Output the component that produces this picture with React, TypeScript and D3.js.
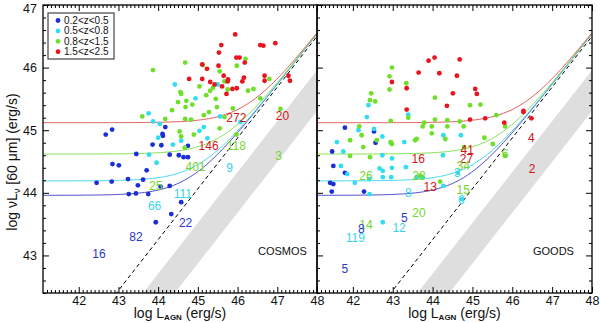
import React, { useEffect, useRef } from "react";
import * as d3 from "d3";

// axis extents (log units)
const xDomain = [41.1, 48];
const yDomain = [42.4, 47];
const xMajor = [42, 43, 44, 45, 46, 47, 48];
const yMajor = [43, 44, 45, 46, 47];

// AGN relation (dashed line) and the grey band, in data units
const agnLine = { x0: 42.95, y0: 42.4, x1: 48, y1: 46.5 };
const bandFoot = [43.62, 44.42];
// star-forming plateaus of the model curves: blue, cyan, green, red
const plateaus = [43.96, 44.19, 44.62, 45.12];

const zBins = ["0.2<z<0.5", "0.5<z<0.8", "0.8<z<1.5", "1.5<z<2.5"];
const dotColors = ["#1a2ed6", "#33dcf2", "#6ee02a", "#e8141e"];
const curveColors = ["#4a4ac8", "#44d8f0", "#84e050", "#e05a5a"];
const labelColors = ["#2a38cc", "#3ad4ea", "#74d82a", "#d4141a"];

const cosmosBlue = [
  [42.68, 44.93], [42.84, 45.01], [44.18, 45.05], [43.86, 44.77], [44.11, 44.94], [44.12, 44.91],
  [44.08, 44.76], [43.45, 44.62], [44.29, 44.61], [44.52, 44.6], [44.64, 44.57], [44.75, 44.57],
  [44.75, 44.75], [42.45, 44.16], [42.83, 44.18], [42.85, 44.46], [43.01, 44.44], [43.24, 44.22],
  [43.49, 44.12], [43.62, 44.21], [43.71, 44.36], [43.26, 43.98], [43.44, 43.99], [43.75, 43.98],
  [44.06, 44.1], [44.29, 44.11], [44.58, 43.85], [44.33, 43.66], [43.94, 43.53],
];
const cosmosCyan = [
  [44.42, 45.73], [43.76, 45.27], [43.87, 45.14], [44.04, 45.1], [44.0, 44.88], [44.37, 44.77],
  [44.58, 44.83], [45.04, 44.99], [44.94, 45.51], [45.15, 45.05], [45.56, 45.22], [45.24, 44.87],
  [46.07, 45.13], [43.77, 44.61], [45.5, 45.73], [43.96, 44.48],
];
const cosmosGreen = [
  [43.87, 45.96], [43.6, 45.22], [44.18, 45.18], [44.35, 45.32], [44.5, 45.45], [44.56, 45.61],
  [44.58, 45.58], [44.68, 46.08], [44.69, 45.37], [44.68, 45.18], [44.83, 45.17], [44.71, 45.47],
  [44.86, 45.41], [45.04, 45.7], [45.13, 46.04], [45.21, 45.56], [45.31, 45.63], [45.38, 45.68],
  [45.28, 45.29], [45.45, 45.5], [45.55, 45.94], [45.67, 45.78], [45.75, 45.65], [45.88, 45.35],
  [45.98, 46.03], [46.2, 46.14], [46.26, 45.63], [46.4, 45.66], [46.57, 45.51], [46.8, 45.82],
  [47.08, 45.34], [45.67, 45.21], [45.48, 45.37], [44.54, 44.98], [44.58, 44.9], [45.15, 45.24],
  [44.9, 44.93], [45.55, 45.03], [45.97, 44.93], [44.67, 44.72],
];
const cosmosRed = [
  [45.94, 46.53], [45.59, 46.36], [45.53, 46.24], [45.11, 46.05], [45.23, 45.98], [45.52, 46.03],
  [44.78, 45.82], [45.11, 45.82], [45.31, 45.77], [45.42, 45.73], [45.65, 45.87], [45.76, 45.81],
  [45.75, 45.78], [45.61, 45.7], [45.87, 45.66], [45.72, 45.58], [45.97, 46.16], [46.05, 46.16],
  [46.18, 46.08], [45.98, 45.67], [46.12, 45.78], [46.16, 45.84], [46.68, 45.87], [46.68, 45.79],
  [46.57, 46.36], [46.65, 46.35], [46.95, 46.39], [47.28, 45.87], [47.32, 45.79],
];

const goodsBlue = [
  [41.8, 45.04], [42.53, 44.98], [42.57, 44.8], [41.48, 44.66], [41.51, 44.43], [41.8, 44.32],
  [41.43, 44.16], [41.51, 44.14], [41.47, 44.02], [42.28, 44.02],
];
const goodsCyan = [
  [42.39, 45.4], [42.35, 45.21], [42.14, 45.0], [41.6, 44.81], [41.76, 44.66], [42.53, 45.02],
  [42.74, 44.9], [42.95, 44.8], [43.29, 44.81], [43.39, 45.25], [44.27, 44.92], [44.71, 44.92],
  [42.74, 44.6], [42.98, 44.55], [44.26, 44.6], [41.7, 44.43], [41.86, 44.3], [42.05, 44.16],
  [42.41, 44.22], [42.67, 44.39], [42.75, 44.35], [42.75, 44.25], [42.96, 44.25], [42.98, 44.4],
  [43.33, 44.41], [43.6, 44.25], [43.75, 44.25], [44.27, 44.11], [44.63, 44.32], [42.42, 43.98],
  [42.75, 43.53], [44.74, 43.9],
];
const goodsGreen = [
  [42.98, 46.0], [42.92, 45.86], [42.92, 45.65], [43.34, 45.75], [42.46, 45.59], [42.43, 45.48],
  [42.56, 45.46], [44.06, 45.52], [43.39, 45.2], [42.95, 45.15], [43.79, 45.12], [43.75, 45.06],
  [43.98, 45.06], [44.06, 45.17], [44.37, 45.16], [44.37, 45.06], [44.68, 45.14], [44.78, 45.06],
  [43.98, 44.95], [44.94, 45.4], [45.2, 45.41], [45.6, 45.24], [42.16, 45.06], [42.22, 44.92],
  [41.93, 44.84], [42.26, 44.73], [42.6, 44.84], [42.95, 44.81], [42.98, 44.78], [43.56, 44.84],
  [43.6, 44.86], [44.32, 44.86], [41.93, 44.59], [42.43, 44.57], [45.3, 44.88], [45.51, 44.78],
  [45.82, 45.06], [44.79, 44.73], [45.82, 44.59], [44.19, 44.18], [43.69, 44.27],
];
const goodsRed = [
  [44.05, 46.16], [43.9, 46.11], [44.68, 46.13], [43.65, 45.92], [44.17, 45.91], [44.61, 45.87],
  [42.98, 45.77], [43.35, 45.67], [44.51, 45.59], [45.07, 45.66], [45.11, 45.58], [44.36, 45.39],
  [43.35, 45.33], [44.94, 45.17], [45.32, 45.19], [45.8, 45.12], [46.28, 45.31], [46.28, 45.29],
  [46.48, 45.19],
];

// number labels: [text, x, y, colour index]
const cosmosLabels = [
  ["272", 45.97, 45.19, 3], ["20", 47.13, 45.22, 3], ["146", 45.27, 44.75, 3], ["118", 45.97, 44.75, 2],
  ["3", 47.03, 44.59, 2], ["401", 44.94, 44.41, 2], ["9", 45.8, 44.4, 1], ["25", 43.94, 44.11, 2],
  ["111", 44.62, 43.98, 1], ["66", 43.91, 43.79, 1], ["22", 44.69, 43.52, 0], ["82", 43.44, 43.29, 0],
  ["16", 42.51, 43.02, 0],
];
const goodsLabels = [
  ["4", 46.48, 44.87, 3], ["2", 46.5, 44.38, 3], ["16", 43.64, 44.54, 3], ["41", 44.87, 44.68, 3],
  ["27", 44.85, 44.54, 3], ["34", 44.77, 44.43, 2], ["6", 45.82, 44.62, 2], ["3", 44.62, 44.32, 1],
  ["26", 42.33, 44.27, 2], ["28", 43.66, 44.27, 2], ["13", 43.94, 44.1, 3], ["15", 44.77, 44.05, 2],
  ["8", 43.39, 44.0, 1], ["6", 44.72, 43.89, 1], ["20", 43.66, 43.68, 2], ["5", 43.29, 43.6, 0],
  ["14", 42.33, 43.49, 2], ["12", 43.16, 43.44, 1], ["8", 42.21, 43.43, 0], ["119", 42.06, 43.28, 1],
  ["5", 41.8, 42.79, 0],
];

const FONT = "'Liberation Sans', Arial, Helvetica, sans-serif";

const isInt = (v: number) => Math.abs(v - Math.round(v)) < 1e-6;

export default function App() {
  const ref = useRef<SVGSVGElement>(null);

  useEffect(() => {
    const svg = d3.select(ref.current);
    svg.selectAll("*").remove();

    const top = 5;
    const bottom = 293;
    const panels = [
      { id: "cosmos", name: "COSMOS", left: 43, right: 317, sets: [cosmosBlue, cosmosCyan, cosmosGreen, cosmosRed], labels: cosmosLabels, first: true },
      { id: "goods", name: "GOODS", left: 317, right: 592, sets: [goodsBlue, goodsCyan, goodsGreen, goodsRed], labels: goodsLabels, first: false },
    ];

    const slope = (agnLine.y1 - agnLine.y0) / (agnLine.x1 - agnLine.x0);
    const agn = (x: number) => agnLine.y0 + slope * (x - agnLine.x0);
    const xMinor = d3.range(41.2, 48.0001, 0.1).filter((v) => !isInt(v));
    const yMinor = d3.range(42.4, 47.0001, 0.2).filter((v) => !isInt(v));

    panels.forEach((p) => {
      const x = d3.scaleLinear().domain(xDomain).range([p.left, p.right]);
      const y = d3.scaleLinear().domain(yDomain).range([bottom, top]);
      const g = svg.append("g");

      svg.append("clipPath").attr("id", "clip-" + p.id)
        .append("rect")
        .attr("x", p.left).attr("y", top)
        .attr("width", p.right - p.left).attr("height", bottom - top);

      const inner = g.append("g").attr("clip-path", `url(#clip-${p.id})`);

      // grey band
      const edge = (x0: number, xx: number) => yDomain[0] + slope * (xx - x0);
      const band: [number, number][] = [
        [bandFoot[0], yDomain[0]], [bandFoot[1], yDomain[0]],
        [49, edge(bandFoot[1], 49)], [49, edge(bandFoot[0], 49)],
      ];
      inner.append("path")
        .attr("d", "M" + band.map((d) => `${x(d[0])},${y(d[1])}`).join("L") + "Z")
        .attr("fill", "#dedede");

      // dashed AGN line
      inner.append("line")
        .attr("x1", x(42.7)).attr("y1", y(agn(42.7)))
        .attr("x2", x(48.3)).attr("y2", y(agn(48.3)))
        .attr("stroke", "#000").attr("stroke-width", 1)
        .attr("stroke-dasharray", "4,3");

      // model curves
      const xs = d3.range(xDomain[0], xDomain[1] + 0.001, 0.04);
      plateaus.forEach((pl, i) => {
        const line = d3.line<number>()
          .x((v) => x(v))
          .y((v) => y(Math.log10(Math.pow(10, pl) + Math.pow(10, agn(v) + 0.04))));
        inner.append("path")
          .attr("d", line(xs))
          .attr("fill", "none")
          .attr("stroke", curveColors[i])
          .attr("stroke-width", 1);
      });

      // points
      p.sets.forEach((set, i) => {
        inner.append("g").selectAll("circle")
          .data(set)
          .enter()
          .append("circle")
          .attr("cx", (d) => x(d[0]))
          .attr("cy", (d) => y(d[1]))
          .attr("r", 2.4)
          .attr("fill", dotColors[i]);
      });

      // number labels
      g.append("g").selectAll("text")
        .data(p.labels)
        .enter()
        .append("text")
        .attr("x", (d: any) => x(d[1]))
        .attr("y", (d: any) => y(d[2]))
        .attr("text-anchor", "middle")
        .attr("dominant-baseline", "central")
        .attr("font-family", FONT)
        .attr("font-size", 12)
        .attr("fill", (d: any) => labelColors[d[3]])
        .text((d: any) => d[0]);

      // axes
      const styleAxis = (sel: any) => {
        sel.select(".domain").remove();
        sel.selectAll("line").attr("stroke", "#000");
        sel.selectAll("text").attr("font-family", FONT).attr("font-size", 12.5).attr("fill", "#111");
      };
      g.append("g").attr("transform", `translate(0,${bottom})`)
        .call(d3.axisBottom(x).tickValues(xMajor).tickSize(-6).tickPadding(3).tickFormat(d3.format("d")))
        .call(styleAxis);
      g.append("g").attr("transform", `translate(0,${bottom})`)
        .call(d3.axisBottom(x).tickValues(xMinor).tickSize(-3).tickFormat(() => ""))
        .call(styleAxis);
      g.append("g").attr("transform", `translate(0,${top})`)
        .call(d3.axisTop(x).tickValues(xMajor).tickSize(-6).tickFormat(() => ""))
        .call(styleAxis);
      g.append("g").attr("transform", `translate(0,${top})`)
        .call(d3.axisTop(x).tickValues(xMinor).tickSize(-3).tickFormat(() => ""))
        .call(styleAxis);
      const yl = g.append("g").attr("transform", `translate(${p.left},0)`)
        .call(d3.axisLeft(y).tickValues(yMajor).tickSize(-6).tickPadding(6)
          .tickFormat(p.first ? d3.format("d") : () => ""))
        .call(styleAxis);
      yl.selectAll("text").filter((d: any) => d === 47).attr("dy", "0.62em");
      g.append("g").attr("transform", `translate(${p.left},0)`)
        .call(d3.axisLeft(y).tickValues(yMinor).tickSize(-3).tickFormat(() => ""))
        .call(styleAxis);
      if (!p.first) {
        g.append("g").attr("transform", `translate(${p.right},0)`)
          .call(d3.axisRight(y).tickValues(yMajor).tickSize(-6).tickFormat(() => ""))
          .call(styleAxis);
        g.append("g").attr("transform", `translate(${p.right},0)`)
          .call(d3.axisRight(y).tickValues(yMinor).tickSize(-3).tickFormat(() => ""))
          .call(styleAxis);
      }

      // frame
      g.append("rect")
        .attr("x", p.left).attr("y", top)
        .attr("width", p.right - p.left).attr("height", bottom - top)
        .attr("fill", "none").attr("stroke", "#000").attr("stroke-width", 1.3);

      // panel name
      g.append("text")
        .attr("x", p.right - 59).attr("y", 255)
        .attr("font-family", FONT).attr("font-size", 11).attr("fill", "#111")
        .text(p.name);

      // x title
      const xt = g.append("text")
        .attr("x", (p.left + p.right) / 2).attr("y", 318)
        .attr("text-anchor", "middle")
        .attr("font-family", FONT).attr("font-size", 14).attr("fill", "#111");
      xt.append("tspan").text("log L");
      xt.append("tspan").attr("font-size", 8).attr("font-weight", "bold").attr("dy", 2).text("AGN");
      xt.append("tspan").attr("dy", -2).text(" (erg/s)");
    });

    // y title
    const yt = svg.append("text")
      .attr("transform", "translate(17,162) rotate(-90)")
      .attr("text-anchor", "middle")
      .attr("font-family", FONT).attr("font-size", 14).attr("fill", "#111");
    yt.append("tspan").text("log \u03bdL");
    yt.append("tspan").attr("font-size", 9.5).attr("dy", 3).text("\u03bd");
    yt.append("tspan").attr("dy", -3).text(" [60 \u03bcm] (erg/s)");

    // legend
    const lg = svg.append("g");
    lg.append("rect")
      .attr("x", 48).attr("y", 13).attr("width", 66).attr("height", 46)
      .attr("fill", "#fff").attr("stroke", "#444").attr("stroke-width", 1.2);
    zBins.forEach((z, i) => {
      lg.append("circle").attr("cx", 58).attr("cy", 20.5 + i * 10.4).attr("r", 2.4).attr("fill", dotColors[i]);
      lg.append("text")
        .attr("x", 64).attr("y", 20.5 + i * 10.4)
        .attr("dominant-baseline", "central")
        .attr("font-family", FONT).attr("font-size", 10).attr("fill", "#111")
        .text(z);
    });
  }, []);

  return (
    <svg
      ref={ref}
      width={600}
      height={323}
      style={{ position: "absolute", left: 0, top: 0, background: "#fff" }}
    />
  );
}
